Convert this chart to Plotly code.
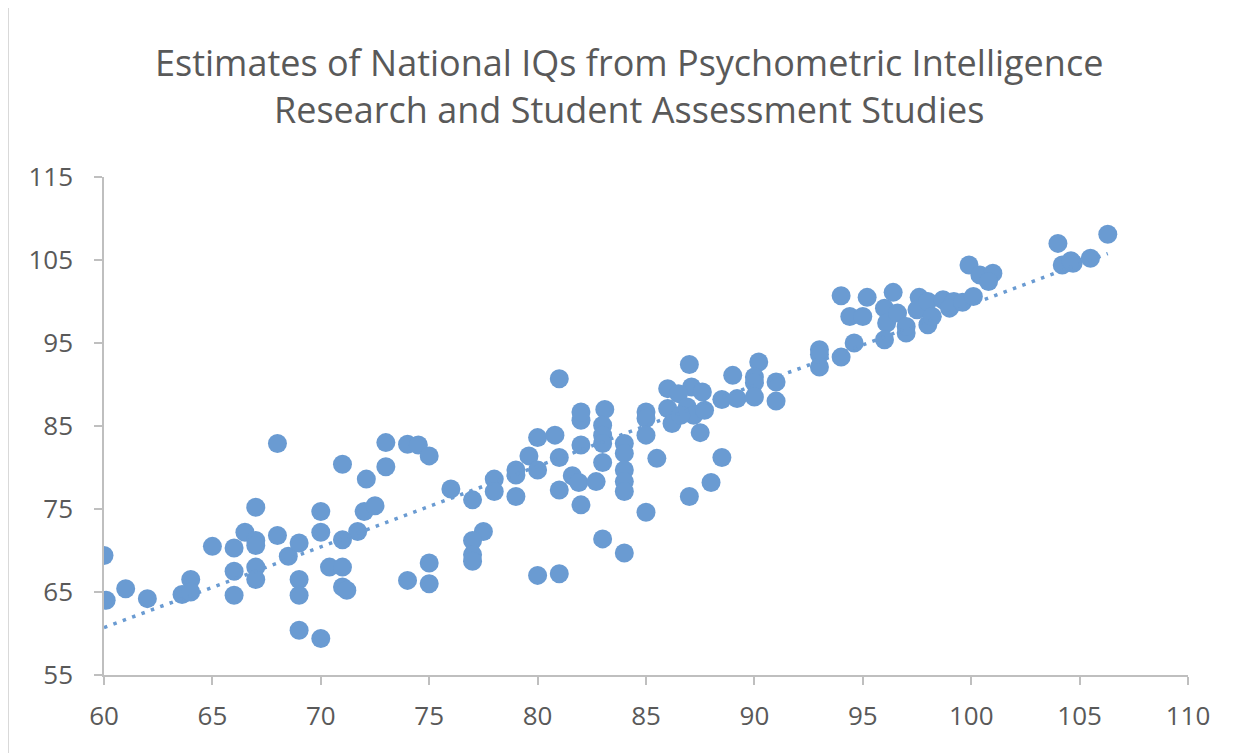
import numpy as np
import plotly.graph_objects as go

# Psychometric IQ estimates (x) and student-assessment IQ estimates (y)
psychometric_iq = [
    60, 60.1, 61, 62, 63.6, 64, 64, 65, 66, 66, 66, 66.5, 67, 67, 67, 67, 67,
    68, 68, 68.5, 69, 69, 69, 69, 70, 70, 70, 70.4, 71, 71, 71, 71, 71.2, 71.7,
    72, 72.1, 72.5, 73, 73, 74, 74.5, 75, 74, 75, 75, 76, 77, 77.5, 77, 77, 77,
    78, 78, 79, 79, 79, 79.6, 80, 80.8, 81, 80, 81, 81.6, 81.9, 82, 82, 82, 82,
    80, 81, 81, 83.1, 83, 83, 83, 83, 84, 84, 84, 84, 84, 85, 85, 85, 85.5, 85,
    84, 83, 82.7, 86, 86, 86.2, 87, 87.1, 87.6, 86.5, 86.9, 87.2, 86.6, 87.7,
    87.5, 88.5, 89, 89.2, 90.2, 90, 90, 90, 88.5, 88, 87, 91, 91, 93, 93, 93,
    94, 94, 94.4, 94.6, 95.2, 95, 96, 96.1, 96, 96.4, 96.6, 97, 97, 97.6, 97.5,
    98, 98, 98.2, 98.7, 99.2, 99, 99.6, 100.1, 99.9, 100.4, 101, 100.8, 104,
    104.2, 104.7, 104.6, 105.5, 106.3,
]
assessment_iq = [
    69.4, 64.0, 65.4, 64.2, 64.7, 66.5, 65.0, 70.5, 70.3, 67.5, 64.6, 72.2, 75.2,
    71.2, 70.6, 68.0, 66.5, 82.9, 71.8, 69.3, 70.9, 66.5, 64.6, 60.4, 74.7, 72.2,
    59.4, 68.0, 80.4, 71.3, 68.0, 65.6, 65.2, 72.3, 74.7, 78.6, 75.4, 83.0, 80.1,
    82.8, 82.7, 81.4, 66.4, 68.5, 66.0, 77.4, 76.1, 72.3, 71.2, 69.5, 68.7, 78.6,
    77.1, 79.7, 79.1, 76.5, 81.4, 83.6, 83.9, 81.2, 79.7, 77.3, 79.0, 78.2, 75.5,
    82.7, 85.7, 86.7, 67.0, 67.2, 90.7, 87.0, 85.1, 83.9, 82.9, 80.6, 82.9, 81.7,
    79.7, 78.3, 77.1, 86.7, 85.9, 83.9, 81.1, 74.6, 69.7, 71.4, 78.3, 89.5, 87.1,
    85.3, 92.4, 89.7, 89.1, 88.9, 87.3, 86.3, 86.3, 86.9, 84.2, 88.2, 91.1, 88.3,
    92.7, 90.9, 90.2, 88.5, 81.2, 78.2, 76.5, 90.3, 88.0, 94.2, 93.6, 92.1, 93.3,
    100.7, 98.2, 95.0, 100.5, 98.2, 99.2, 97.4, 95.4, 101.1, 98.6, 96.2, 97.0,
    100.5, 99.0, 100.0, 97.2, 98.2, 100.2, 100.0, 99.2, 99.9, 100.6, 104.4, 103.2,
    103.4, 102.4, 107.0, 104.4, 104.6, 104.9, 105.2, 108.1,
]

x_ticks = [60, 65, 70, 75, 80, 85, 90, 95, 100, 105, 110]
y_ticks = [55, 65, 75, 85, 95, 105, 115]

title_text = ("Estimates of National IQs from Psychometric Intelligence<br>"
              "Research and Student Assessment Studies")

# Linear trend line (least squares, as in Excel)
slope, intercept = np.polyfit(psychometric_iq, assessment_iq, 1)
tx = np.array([min(psychometric_iq), max(psychometric_iq)])
ty = slope * tx + intercept

BLUE = "#6A9BD2"
GREY_TXT = "#595959"
AXIS = "#BFBFBF"
FONT = "Open Sans, Lato, sans-serif"

ML, MR, MT, MB = 96, 69, 169, 86
PW = 1249 - ML - MR
PH = 753 - MT - MB

fig = go.Figure()
fig.add_trace(go.Scatter(
    x=psychometric_iq, y=assessment_iq, mode="markers",
    marker=dict(size=19, color=BLUE, line=dict(width=0)),
    showlegend=False, hoverinfo="x+y",
))
fig.add_trace(go.Scatter(
    x=tx, y=ty, mode="lines",
    line=dict(color=BLUE, width=3.5, dash="3.5px,6.5px"),
    showlegend=False, hoverinfo="skip",
))

axis_common = dict(
    showgrid=False, zeroline=False, showline=True, linecolor=AXIS,
    linewidth=1.5, ticks="outside", ticklen=8, tickcolor=AXIS, tickwidth=1.5,
    tickfont=dict(size=26, color=GREY_TXT, family=FONT),
)

fig.update_layout(
    width=1249, height=753,
    paper_bgcolor="white", plot_bgcolor="white",
    margin=dict(l=ML, r=MR, t=MT, b=MB),
    font=dict(family=FONT, color=GREY_TXT),
    xaxis=dict(range=[60, 110], tickvals=x_ticks,
               ticktext=[str(v) for v in x_ticks], ticklabelstandoff=9,
               **axis_common),
    yaxis=dict(range=[55, 115], tickvals=y_ticks,
               ticktext=[str(v) for v in y_ticks], ticklabelstandoff=16,
               **axis_common),
)

fig.add_annotation(
    text=title_text, xref="paper", yref="paper",
    x=(629 - 8 - ML) / PW, y=1 + (MT - 78) / PH,
    xanchor="center", yanchor="middle", showarrow=False,
    font=dict(family=FONT, size=36, color=GREY_TXT),
)

# faint chart border at the left edge
fig.add_shape(type="line", xref="paper", yref="paper",
              x0=-(ML - 0.5) / PW, x1=-(ML - 0.5) / PW,
              y0=-MB / PH, y1=1 + MT / PH,
              line=dict(color="#D9D9D9", width=1))

fig.write_html("out.html")
